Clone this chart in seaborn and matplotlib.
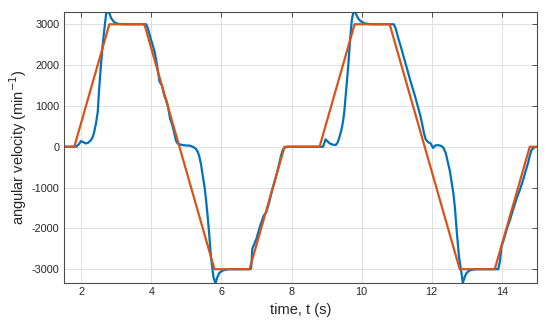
import pandas as pd
import seaborn as sns
import matplotlib
matplotlib.use("Agg")
import matplotlib.pyplot as plt

# measured speed (blue)
blue_t = [1.5, 1.85, 1.93, 1.99, 2.06, 2.13, 2.2, 2.28, 2.33, 2.37, 2.42, 2.47, 2.51, 2.56, 2.61,
          2.66, 2.71, 2.77, 2.81, 2.85, 2.94, 3.05, 3.2, 3.85,
          3.9, 3.98, 4.04, 4.1, 4.17, 4.23, 4.3, 4.37, 4.42, 4.47, 4.53, 4.6, 4.65, 4.7, 4.75,
          4.8, 4.9, 5.0, 5.08, 5.15, 5.22, 5.28, 5.33, 5.37, 5.42, 5.47, 5.52, 5.56, 5.6, 5.64,
          5.7, 5.77, 5.83, 5.88, 5.94, 6.02, 6.09, 6.2, 6.83,
          6.85, 6.88, 6.95, 7.0, 7.1, 7.2, 7.28, 7.35, 7.45, 7.55, 7.62, 7.7, 7.75, 7.8, 7.9, 8.9,
          8.93, 8.97, 9.03, 9.09, 9.18, 9.26, 9.32, 9.37, 9.42, 9.47, 9.51, 9.55, 9.59, 9.62, 9.67,
          9.72, 9.76, 9.8, 9.84, 9.88, 9.92, 10.0, 10.1, 10.25, 10.92,
          10.97, 11.05, 11.12, 11.2, 11.3, 11.38, 11.45, 11.52, 11.6, 11.67, 11.73, 11.78, 11.83,
          11.9, 11.97, 12.04, 12.1, 12.18, 12.27, 12.33, 12.4, 12.47, 12.52, 12.56, 12.62, 12.66,
          12.72, 12.78, 12.85, 12.89, 12.94, 12.99, 13.06, 13.13, 13.25, 13.9,
          13.95, 13.99, 14.05, 14.15, 14.25, 14.32, 14.42, 14.52, 14.61, 14.68, 14.75, 14.8, 14.85,
          14.92, 15.0]
blue_v = [0, 0, 60, 140, 110, 80, 100, 165, 250, 370, 580, 860, 1430, 2000, 2490,
          2900, 3270, 3310, 3250, 3150, 3050, 3010, 3000, 3000,
          2900, 2650, 2480, 2300, 1950, 1600, 1500, 1250, 1150, 1000, 700, 520, 350, 150, 80,
          60, 40, 30, 30, 10, -20, -60, -140, -245, -450, -735, -1000, -1306, -1650, -2040,
          -2700, -3190, -3350, -3200, -3090, -3040, -3020, -3000, -3000,
          -2950, -2500, -2350, -2250, -1950, -1700, -1600, -1400, -1050, -750, -520, -220, -80, -20, 0, 0,
          80, 180, 130, 80, 50, 40, 110, 245, 400, 620, 900, 1300, 1700, 2000, 2600,
          3100, 3280, 3310, 3250, 3180, 3120, 3060, 3020, 3000, 3000,
          2900, 2650, 2450, 2200, 1900, 1650, 1450, 1250, 1000, 780, 550, 330, 180,
          110, 80, -30, 30, 40, 20, -20, -150, -410, -600, -815, -1150, -1470,
          -2120, -2700, -3100, -3330, -3200, -3100, -3040, -3020, -3000, -3000,
          -2800, -2450, -2300, -2000, -1750, -1550, -1280, -1050, -815, -600, -400, -220, -80,
          -20, 0]

# reference speed (red)
red_t = [1.5, 1.8, 2.8, 3.8, 5.8, 6.8, 7.8, 8.8, 9.8, 10.8, 12.8, 13.8, 14.8, 15.0]
red_v = [0, 0, 3000, 3000, -3000, -3000, 0, 0, 3000, 3000, -3000, -3000, 0, 0]

df_blue = pd.DataFrame({"t": blue_t, "v": blue_v})
df_red = pd.DataFrame({"t": red_t, "v": red_v})

sns.set_style("whitegrid", {"grid.color": "#e0e0e0", "axes.edgecolor": "#4d4d4d"})
plt.rcParams["font.family"] = ["Liberation Sans", "DejaVu Sans"]
plt.rcParams["axes.unicode_minus"] = False

fig = plt.figure(figsize=(5.5, 3.25), dpi=100)
ax = fig.add_axes([0.116, 0.129, 0.86, 0.834])
sns.lineplot(data=df_blue, x="t", y="v", color="#0072BD", linewidth=1.6, estimator=None, ax=ax)
sns.lineplot(data=df_red, x="t", y="v", color="#D95319", linewidth=1.6, estimator=None, ax=ax)

ax.set_xlim(1.5, 15)
ax.set_ylim(-3340, 3300)
ax.set_xticks([2, 4, 6, 8, 10, 12, 14])
ax.set_yticks([-3000, -2000, -1000, 0, 1000, 2000, 3000])
ax.tick_params(direction="in", length=3.5, width=0.7, colors="#4d4d4d", labelsize=7.8,
               labelcolor="#262626", top=True, right=True, pad=3)
for s in ax.spines.values():
    s.set_linewidth(0.8)
    s.set_color("#4d4d4d")
ax.grid(True, linewidth=0.7)
ax.set_xlabel("time, t (s)", fontsize=10.5, color="#262626", labelpad=4)
ax.set_ylabel("angular velocity (min$^{-1}$)", fontsize=10.5, color="#262626")
ax.yaxis.set_label_coords(-0.074, 0.5)

plt.savefig("out.png", dpi=100)
